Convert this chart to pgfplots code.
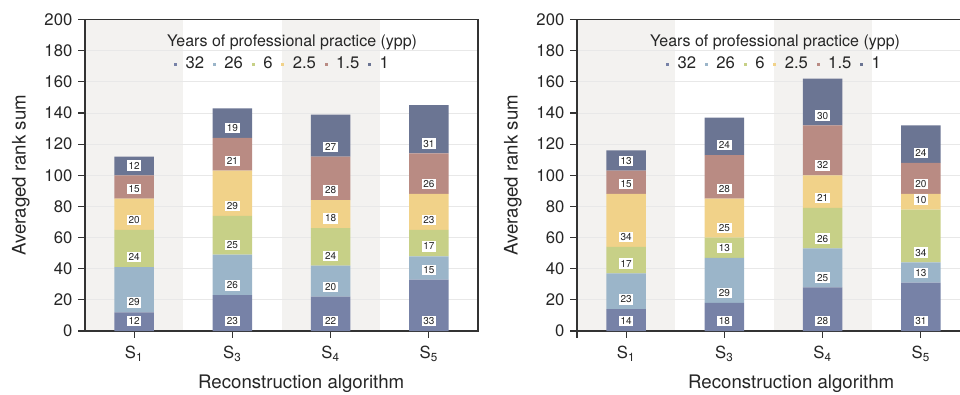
\documentclass[border=0pt]{standalone}
\usepackage{fontspec}
\setmainfont{TeX Gyre Heros}
\usepackage{pgfplots}
\usepackage{pgfplotstable}
\pgfplotsset{compat=1.18}
\definecolor{c32}{HTML}{7782A7}
\definecolor{c26}{HTML}{9BB5C9}
\definecolor{c6}{HTML}{C7D087}
\definecolor{c25}{HTML}{F1D289}
\definecolor{c15}{HTML}{B98B83}
\definecolor{c1}{HTML}{6B7593}
\definecolor{band}{HTML}{F3F2F0}
\definecolor{axc}{HTML}{333333}

\pgfplotstableread{
x a32 a26 a6 a25 a15 a1
0 12 29 24 20 15 12
1 23 26 25 29 21 19
2 22 20 24 18 28 27
3 33 15 17 23 26 31
}\tabA
\pgfplotstableread{
x a32 a26 a6 a25 a15 a1
0 14 23 17 34 15 13
1 18 29 13 25 28 24
2 28 25 26 21 32 30
3 31 13 34 10 20 24
}\tabB

\newcommand{\seg}[3]{%
  \addplot[fill=#3, draw=none, visualization depends on={\thisrow{#2}\as\val}] table[x=x,y=#2,meta=#2] {#1};
}

\pgfplotsset{
  geom/.style={scale only axis, width=294.75pt, height=233.6pt,
    xmin=-0.5, xmax=3.5, ymin=0, ymax=200},
  bands/.style={geom, hide axis},
  mystyle/.style={
    geom,
    ybar stacked, bar width=0.4,
    ytick={0,20,...,200}, xtick={0,1,2,3},
    xticklabels={S\textsubscript{1},S\textsubscript{3},S\textsubscript{4},S\textsubscript{5}},
    xticklabel style={yshift=-3pt},
    ymajorgrids, grid style={color=black!9, line width=0.6pt},
    axis line style={axc, line width=0.8pt},
    tick style={axc, line width=0.8pt},
    tick align=outside, major tick length=5pt,
    xtick pos=bottom, ytick pos=left,
    /pgf/number format/assume math mode=true,
    tick label style={font=\fontsize{12.5}{14}\selectfont, text=black!85},
    yticklabel style={xshift=-1pt},
    label style={font=\fontsize{14}{16}\selectfont, text=black!85},
    xlabel={Reconstruction algorithm},
    ylabel={Averaged rank sum},
    ylabel style={at={(axis description cs:-0.163,0.5)}, anchor=center},
    point meta=explicit,
    nodes near coords,
    every node near coord/.style={font=\fontsize{7.5}{8}\selectfont, text=black!85, fill=white, inner sep=1.2pt, anchor=center, yshift={(6.3-0.5*\val)*1.168pt}},
    legend columns=-1,
    legend entries={32,26,6,2.5,1.5,1},
    legend style={at={(0.5,0.857)}, anchor=center, draw=none, fill=none,
      font=\fontsize{12.5}{14}\selectfont, text=black!85,
      nodes={inner xsep=0pt, inner ysep=1pt},
      /tikz/every odd column/.append style={column sep=6.5pt},
      /tikz/every even column/.append style={column sep=6.5pt}},
    legend image code/.code={\fill[##1] (0pt,-1.1pt) rectangle (2.2pt,1.1pt);},
  }
}

\begin{document}
\begin{tikzpicture}
\useasboundingbox (0,0) rectangle (720pt,295.5pt);
\begin{axis}[bands, at={(63.75pt,47.25pt)}, anchor=south west]
  \fill[band] (axis cs:-0.5,0) rectangle (axis cs:0.5,200);
  \fill[band] (axis cs:1.5,0) rectangle (axis cs:2.5,200);
\end{axis}
\begin{axis}[mystyle, at={(63.75pt,47.25pt)}, anchor=south west,
  xlabel style={at={(axis description cs:0.55,-0.183)}, anchor=base}]
  \seg{\tabA}{a32}{c32}
  \seg{\tabA}{a26}{c26}
  \seg{\tabA}{a6}{c6}
  \seg{\tabA}{a25}{c25}
  \seg{\tabA}{a15}{c15}
  \seg{\tabA}{a1}{c1}
  \node[font=\fontsize{12}{14}\selectfont, text=black!85, anchor=base] at (rel axis cs:0.527,0.913) {Years of professional practice (ypp)};
\end{axis}
\begin{axis}[bands, at={(432.75pt,47.25pt)}, anchor=south west]
  \fill[band] (axis cs:-0.5,0) rectangle (axis cs:0.5,200);
  \fill[band] (axis cs:1.5,0) rectangle (axis cs:2.5,200);
\end{axis}
\begin{axis}[mystyle, at={(432.75pt,47.25pt)}, anchor=south west,
  xlabel style={at={(axis description cs:0.545,-0.183)}, anchor=base},
  extra x ticks={-0.5}, extra x tick labels={}, extra tick style={grid=none}]
  \seg{\tabB}{a32}{c32}
  \seg{\tabB}{a26}{c26}
  \seg{\tabB}{a6}{c6}
  \seg{\tabB}{a25}{c25}
  \seg{\tabB}{a15}{c15}
  \seg{\tabB}{a1}{c1}
  \node[font=\fontsize{12}{14}\selectfont, text=black!85, anchor=base] at (rel axis cs:0.504,0.913) {Years of professional practice (ypp)};
\end{axis}
\end{tikzpicture}
\end{document}
